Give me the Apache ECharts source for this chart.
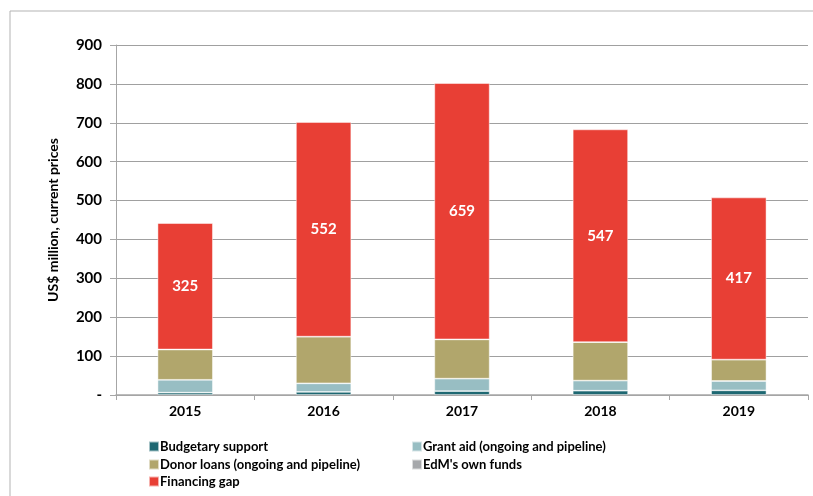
<!DOCTYPE html>
<html lang="en" style="height: 100%">
<head>
  <meta charset="utf-8">
</head>
<body style="height: 100%; margin: 0">
  <div id="container" style="width: 813px; height: 496px"></div>

  <script type="text/javascript" src="https://cdn.jsdelivr.net/npm/echarts@6/dist/echarts.min.js"></script>
  <script type="text/javascript">
// data
var years = ['2015', '2016', '2017', '2018', '2019'];
var budgetary = [6, 8, 10, 11, 12];
var grantAid = [33, 22, 32, 26, 24];
var donorLoans = [78, 120, 101, 99, 55];
var ownFunds = [0, 0, 0, 0, 0];
var financingGap = [325, 552, 659, 547, 417];

var dom = document.getElementById('container');
var myChart = echarts.init(dom, null, { renderer: 'canvas' });

var font = 'Lato, "Open Sans", sans-serif';
var barBorder = { borderColor: 'rgba(255,255,255,0.6)', borderWidth: 0.8 };

function stackSeries(name, color, data, extra) {
  var s = {
    name: name,
    type: 'bar',
    stack: 'total',
    barWidth: '40%',
    itemStyle: Object.assign({ color: color }, barBorder),
    data: data
  };
  return Object.assign(s, extra || {});
}

// one legend per entry so the two-column layout matches
function legendItem(name, left, top) {
  return {
    left: left,
    top: top,
    padding: 0,
    icon: 'rect',
    itemWidth: 10,
    itemHeight: 10,
    itemGap: 0,
    textStyle: { fontFamily: font, fontSize: 13, fontWeight: 'bold', color: '#000', padding: [0, 0, 0, -4] },
    data: [name]
  };
}

var option = {
  backgroundColor: '#fff',
  animation: false,
  textStyle: { fontFamily: font },
  graphic: [
    {
      type: 'rect',
      shape: { x: 10, y: 11, width: 900, height: 600 },
      style: { fill: 'none', stroke: '#b3b3b3', lineWidth: 1 }
    }
  ],
  grid: { left: 116, right: 5, top: 45, bottom: 101 },
  legend: [
    legendItem('Budgetary support', 148, 440),
    legendItem('Donor loans (ongoing and pipeline)', 148, 458),
    legendItem('Financing gap', 148, 475),
    legendItem('Grant aid (ongoing and pipeline)', 411, 440),
    legendItem("EdM's own funds", 411, 458)
  ],
  xAxis: {
    type: 'category',
    data: years,
    axisLine: { lineStyle: { color: '#a6a6a6', width: 1.5 } },
    axisTick: { show: true, length: 5, lineStyle: { color: '#a6a6a6' } },
    axisLabel: { color: '#000', fontSize: 14, fontWeight: 'bold', margin: 9, fontFamily: font }
  },
  yAxis: {
    type: 'value',
    min: 0,
    max: 900,
    interval: 100,
    name: 'US$ million, current prices',
    nameLocation: 'middle',
    nameGap: 56,
    nameTextStyle: { color: '#000', fontSize: 14, fontWeight: 'bold', fontFamily: font },
    axisLine: { show: true, lineStyle: { color: '#a6a6a6' } },
    axisTick: { show: true, length: 6, lineStyle: { color: '#a6a6a6' } },
    splitLine: { lineStyle: { color: '#a0a0a0', width: 1 } },
    axisLabel: {
      color: '#000',
      fontSize: 15,
      fontWeight: 'bold',
      margin: 14,
      fontFamily: font,
      formatter: function (v) { return v === 0 ? '-' : v; }
    }
  },
  series: [
    stackSeries('Budgetary support', '#1e6872', budgetary),
    stackSeries('Grant aid (ongoing and pipeline)', '#98bec3', grantAid),
    stackSeries('Donor loans (ongoing and pipeline)', '#b1a66c', donorLoans),
    stackSeries("EdM's own funds", '#a6a8ab', ownFunds),
    stackSeries('Financing gap', '#e83f35', financingGap, {
      label: {
        show: true,
        position: 'inside',
        color: '#fff',
        fontSize: 15,
        fontWeight: 'bold',
        fontFamily: font
      }
    })
  ]
};

myChart.setOption(option);
window.addEventListener('resize', myChart.resize);
  </script>
</body>
</html>
